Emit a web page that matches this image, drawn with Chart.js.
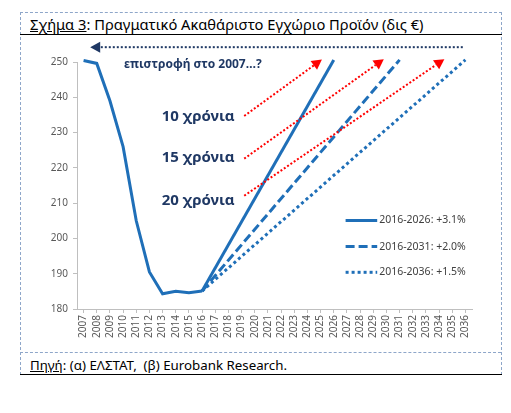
<!DOCTYPE html>
<html>
<head>
<meta charset="utf-8">
<script src="https://cdn.jsdelivr.net/npm/chart.js@4"></script>
<style>
  body { margin: 0; background: #fff; font-family: "Noto Sans", sans-serif; }
  #frame { position: absolute; left: 20px; top: 12px; width: 480px; height: 362px;
           border: 1px dashed #8ea6c9; border-bottom: none; }
  #title { position: absolute; left: 30px; top: 14px; font-size: 14.7px; color: #000; }
  #titleLine { position: absolute; left: 20px; top: 34px; width: 482px; height: 1px; background: #000; }
  #sep { position: absolute; left: 20px; top: 352px; width: 481px; border-top: 1px dashed #8ea6c9; }
  #source { position: absolute; left: 30px; top: 356px; font-size: 13.3px; color: #000; }
  #bottomLine { position: absolute; left: 20px; top: 374px; width: 482px; height: 1px; background: #000; }
  #wrap { position: absolute; left: 20px; top: 35px; width: 481px; height: 317px; }
  u { text-decoration: underline; }
</style>
</head>
<body>
<div id="frame"></div>
<div id="title"><u>Σχήμα 3</u>: Πραγματικό Ακαθάριστο Εγχώριο Προϊόν (δις €)</div>
<div id="titleLine"></div>
<div id="sep"></div>
<div id="source"><u>Πηγή</u>: (α) ΕΛΣΤΑΤ, &nbsp;(β) Eurobank Research.</div>
<div id="bottomLine"></div>
<div id="wrap"><canvas id="gdpChart"></canvas></div>
<script>
const years = ['2007', '2008', '2009', '2010', '2011', '2012', '2013', '2014', '2015', '2016',
               '2017', '2018', '2019', '2020', '2021', '2022', '2023', '2024', '2025', '2026',
               '2027', '2028', '2029', '2030', '2031', '2032', '2033', '2034', '2035', '2036'];

// actual real GDP, bn euro
const gdpActual = [250.4, 249.6, 239.0, 226.0, 205.0, 190.5, 184.3, 185.0, 184.6, 185.1];

// scenario paths: start 2016, end year where 2007 level is reached
const path2026 = { 2016: 185.1, 2026: 250.6 };
const path2031 = { 2016: 185.1, 2031: 250.6 };
const path2036 = { 2016: 185.1, 2036: 250.6 };

const seriesNames = ['2016-2026: +3.1%', '2016-2031: +2.0%', '2016-2036: +1.5%'];
const yTicks = [180, 190, 200, 210, 220, 230, 240, 250];

const blue = '#1f6fb8';
const navy = '#1f3864';
const red = '#ff0000';

function toSeries(points) {
    return years.map(y => (points[y] !== undefined ? points[y] : null));
}

// annotations in chart units (category index, value)
const notes = [
    { text: 'επιστροφή στο 2007…?', x: 8.3, y: 249.4, size: 12 },
    { text: '10 χρόνια', x: 8.7, y: 234.5, size: 15 },
    { text: '15 χρόνια', x: 8.7, y: 222.9, size: 15 },
    { text: '20 χρόνια', x: 8.7, y: 210.7, size: 15 }
];
const redArrows = [
    [12.2, 234.7, 18.1, 250.7],
    [12.2, 222.6, 22.8, 250.8],
    [12.2, 212.1, 27.4, 250.8]
];
const navyArrow = [28.8, 254.2, 0.5, 254.2];
const legendPos = { x1: 19.9, x2: 22.3, ys: [205.1, 197.7, 190.4] };
const dashes = [[], [9, 4], [3, 3]];

function arrow(ctx, x1, y1, x2, y2, color, head) {
    ctx.save();
    ctx.strokeStyle = color;
    ctx.fillStyle = color;
    ctx.lineWidth = 2;
    ctx.setLineDash([2, 2]);
    const ang = Math.atan2(y2 - y1, x2 - x1);
    const bx = x2 - Math.cos(ang) * head;
    const by = y2 - Math.sin(ang) * head;
    ctx.beginPath();
    ctx.moveTo(x1, y1);
    ctx.lineTo(bx, by);
    ctx.stroke();
    ctx.setLineDash([]);
    ctx.beginPath();
    ctx.moveTo(x2, y2);
    ctx.lineTo(bx + Math.sin(ang) * head * 0.55, by - Math.cos(ang) * head * 0.55);
    ctx.lineTo(bx - Math.sin(ang) * head * 0.55, by + Math.cos(ang) * head * 0.55);
    ctx.closePath();
    ctx.fill();
    ctx.restore();
}

const annotationPlugin = {
    id: 'notes',
    afterDatasetsDraw(chart) {
        const ctx = chart.ctx;
        const xs = chart.scales.x;
        const ys = chart.scales.y;
        const px = v => xs.getPixelForValue(v);
        const py = v => ys.getPixelForValue(v);

        ctx.save();
        ctx.fillStyle = navy;
        ctx.textAlign = 'center';
        ctx.textBaseline = 'middle';
        notes.forEach(n => {
            ctx.font = 'bold ' + n.size + 'px "Noto Sans"';
            ctx.fillText(n.text, px(n.x), py(n.y));
        });
        ctx.restore();

        redArrows.forEach(a => arrow(ctx, px(a[0]), py(a[1]), px(a[2]), py(a[3]), red, 10));
        arrow(ctx, px(navyArrow[0]), py(navyArrow[1]), px(navyArrow[2]), py(navyArrow[3]), navy, 10);

        // legend
        ctx.save();
        ctx.font = '10.5px "Noto Sans"';
        ctx.textBaseline = 'middle';
        ctx.fillStyle = '#404040';
        seriesNames.forEach((name, i) => {
            const y = py(legendPos.ys[i]);
            ctx.strokeStyle = blue;
            ctx.lineWidth = 3;
            ctx.setLineDash(dashes[i]);
            ctx.beginPath();
            ctx.moveTo(px(legendPos.x1), y);
            ctx.lineTo(px(legendPos.x2), y);
            ctx.stroke();
            ctx.fillText(name, px(legendPos.x2) + 2, y);
        });
        ctx.restore();
    }
};

new Chart(document.getElementById('gdpChart'), {
    type: 'line',
    data: {
        labels: years,
        datasets: [
            { data: gdpActual, borderColor: blue, borderWidth: 3, pointRadius: 0, tension: 0 },
            { data: toSeries(path2026), borderColor: blue, borderWidth: 3, pointRadius: 0, spanGaps: true },
            { data: toSeries(path2031), borderColor: blue, borderWidth: 3, pointRadius: 0, spanGaps: true, borderDash: dashes[1] },
            { data: toSeries(path2036), borderColor: blue, borderWidth: 3, pointRadius: 0, spanGaps: true, borderDash: dashes[2] }
        ]
    },
    options: {
        responsive: true,
        maintainAspectRatio: false,
        animation: false,
        clip: false,
        layout: { padding: { top: 27, right: 29, left: 0, bottom: 0 } },
        plugins: { legend: { display: false }, tooltip: { enabled: false } },
        scales: {
            x: {
                offset: true,
                grid: { drawOnChartArea: false, drawTicks: true, tickLength: 4, color: '#bfbfbf' },
                border: { color: '#bfbfbf' },
                ticks: { color: '#595959', font: { family: 'Noto Sans', size: 10 },
                         minRotation: 90, maxRotation: 90, autoSkip: false, padding: 2 },
                afterFit: s => { s.height = 43; }
            },
            y: {
                min: 180,
                max: 250,
                afterBuildTicks: s => { s.ticks = yTicks.map(v => ({ value: v })); },
                grid: { drawOnChartArea: false, drawTicks: true, tickLength: 4, color: '#bfbfbf' },
                border: { color: '#bfbfbf' },
                ticks: { color: '#595959', font: { family: 'Noto Sans', size: 10 }, padding: 5 },
                afterFit: s => { s.width = 57; }
            }
        }
    },
    plugins: [annotationPlugin]
});
</script>
</body>
</html>
